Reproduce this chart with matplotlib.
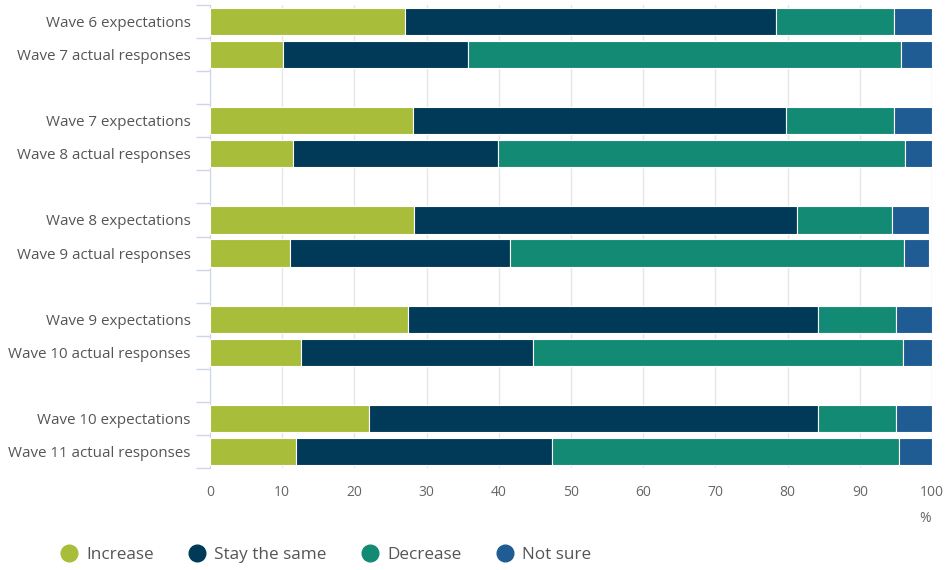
import numpy as np
import matplotlib
matplotlib.use("Agg")
import matplotlib.pyplot as plt

plt.rcParams["font.family"] = ["Open Sans", "DejaVu Sans"]

labels = [
    "Wave 6 expectations", "Wave 7 actual responses",
    "Wave 7 expectations", "Wave 8 actual responses",
    "Wave 8 expectations", "Wave 9 actual responses",
    "Wave 9 expectations", "Wave 10 actual responses",
    "Wave 10 expectations", "Wave 11 actual responses",
]
increase = [27.0, 10.1, 28.1, 11.5, 28.3, 11.1, 27.4, 12.6, 22.0, 11.9]
stay_same = [51.4, 25.6, 51.7, 28.4, 53.0, 30.5, 56.8, 32.1, 62.2, 35.5]
decrease = [16.3, 60.0, 14.9, 56.4, 13.2, 54.5, 10.8, 51.3, 10.8, 48.0]
not_sure = [5.3, 4.3, 5.3, 3.7, 5.1, 3.5, 5.0, 4.0, 5.0, 4.6]

series = [
    ("Increase", increase, "#a8bd3a"),
    ("Stay the same", stay_same, "#003a58"),
    ("Decrease", decrease, "#128a74"),
    ("Not sure", not_sure, "#1f5c94"),
]

# two bars per group, then one empty slot
pos = np.array([g * 3 + k for g in range(5) for k in range(2)])

fig = plt.figure(figsize=(9.49, 5.70), dpi=100)
ax = fig.add_axes([210 / 949, 1 - 468 / 570, (932 - 210) / 949, 463 / 570])

left = np.zeros(len(labels))
for name, vals, col in series:
    vals = np.array(vals)
    ax.barh(pos, vals, left=left, height=0.82, color=col,
            edgecolor="white", linewidth=0.8, label=name, zorder=3)
    left += vals

ax.set_xlim(0, 100)
ax.set_ylim(13.5, -0.5)
ax.set_xticks(range(0, 101, 10))
ax.set_yticks(pos)
ax.set_yticklabels(labels)
ax.set_yticks(np.arange(-0.5, 14, 1), minor=True)

ax.grid(axis="x", color="#e6e6e6", linewidth=1, zorder=0)
for s in ["top", "right", "bottom"]:
    ax.spines[s].set_visible(False)
ax.spines["left"].set_color("#ccd6eb")

ax.tick_params(axis="y", which="major", length=0, pad=14, labelsize=10.9, labelcolor="#555555")
ax.tick_params(axis="y", which="minor", length=10, color="#ccd6eb", width=1)
ax.tick_params(axis="x", length=0, pad=12, labelsize=10, labelcolor="#666666")

fig.text(925 / 949, 1 - 518 / 570, "%", ha="center", va="center",
         fontsize=10, color="#666666")

handles = [plt.Line2D([], [], marker="o", linestyle="none", markersize=12,
                      color=col) for _, _, col in series]
leg = fig.legend(handles, [n for n, _, _ in series], loc="center left",
                 bbox_to_anchor=(46 / 949, 1 - 555 / 570), ncol=4,
                 frameon=False, fontsize=12.3, handlelength=0.9,
                 handletextpad=0.55, columnspacing=2.1)
for t in leg.get_texts():
    t.set_color("#555555")

fig.savefig("out.png", dpi=100)
